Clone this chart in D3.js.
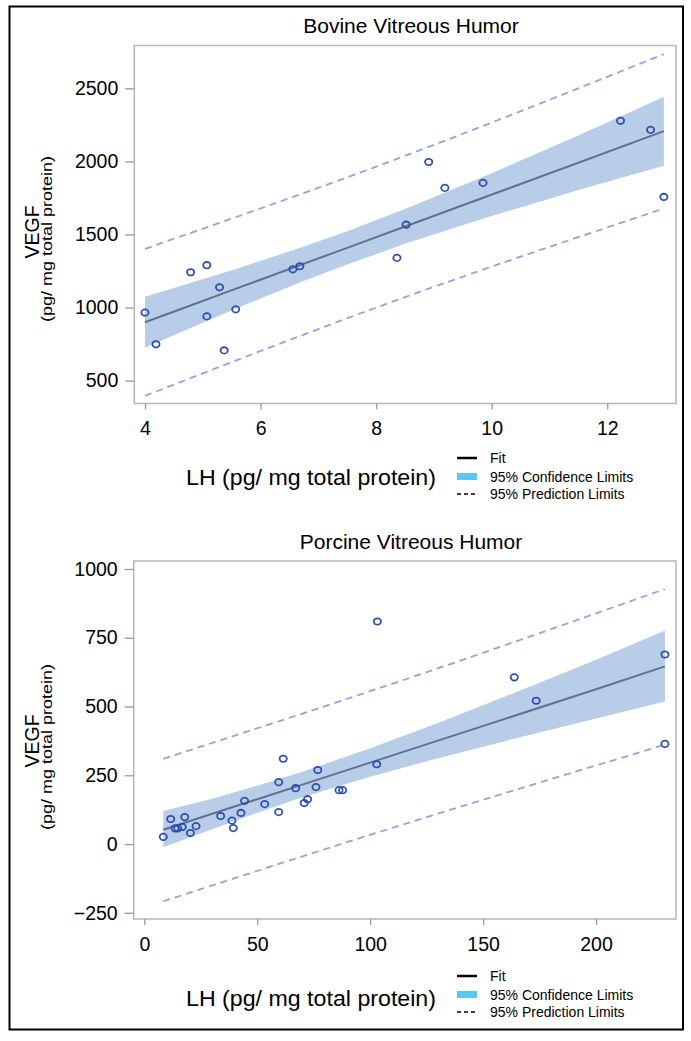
<!DOCTYPE html>
<html><head><meta charset="utf-8">
<script src="https://cdn.jsdelivr.net/npm/d3@7"></script>
<style>
body{margin:0;background:#fff}
text{font-family:"Liberation Sans",Arial,sans-serif;fill:#000}
</style>
</head><body>
<svg id="c" width="691" height="1041"></svg>
<script>
// ---------------- Bovine Vitreous Humor ----------------
const bovineLH   = [4.00, 4.19, 4.79, 5.07, 5.07, 5.29, 5.37, 5.57, 6.56, 6.68, 8.36, 8.52, 8.91, 9.19, 9.85, 12.23, 12.75, 12.98];
const bovineVEGF = [966, 749, 1242, 1290, 940, 1139, 707, 988, 1262, 1283, 1340, 1567, 1996, 1819, 1853, 2278, 2216, 1757];
const bovineBandX   = [4.0, 4.8, 5.6, 6.7, 7.5, 8.5, 9.9, 11.5, 12.98];
const bovineFit     = [900, 1016, 1133, 1293, 1409, 1555, 1758, 1991, 2207];
const bovineCLUpper = [1075, 1170, 1268, 1411, 1523, 1674, 1902, 2178, 2443];
const bovineCLLower = [725, 862, 998, 1175, 1295, 1436, 1614, 1804, 1971];
const bovinePredX     = [4.0, 8.0, 12.98];
const bovinePredUpper = [1402, 1964, 2734];
const bovinePredLower = [396, 1000, 1678];
const bovineXTicks = [4, 6, 8, 10, 12];
const bovineYTicks = [500, 1000, 1500, 2000, 2500];

// ---------------- Porcine Vitreous Humor ----------------
const porcineLH   = [8.4, 11.7, 13.6, 14.8, 16.8, 17.9, 20.4, 22.9, 33.8, 38.8, 39.4, 42.8, 44.4, 53.3, 59.5, 59.5, 61.5, 67.0, 70.8, 72.3, 76.0, 76.8, 86.2, 87.8, 102.9, 103.2, 163.8, 173.5, 230.5, 230.5];
const porcineVEGF = [26, 91, 57, 57, 62, 98, 40, 65, 102, 85, 58, 113, 157, 145, 116, 225, 310, 203, 149, 163, 207, 269, 196, 196, 290, 809, 606, 521, 689, 364];
const porcineBandX   = [8.4, 30, 50, 70, 100, 130, 160, 200, 230.5];
const porcineFit     = [52, 110, 163, 216, 296, 376, 456, 563, 646];
const porcineCLUpper = [120, 165, 212, 263, 348, 440, 537, 670, 776];
const porcineCLLower = [-12, 54, 114, 170, 245, 312, 375, 456, 518];
const porcinePredX     = [8.4, 120, 230.5];
const porcinePredUpper = [310, 611, 927];
const porcinePredLower = [-208, 85, 361];
const porcineXTicks = [0, 50, 100, 150, 200];
const porcineYTicks = [-250, 0, 250, 500, 750, 1000];

const legendLabels = ["Fit", "95% Confidence Limits", "95% Prediction Limits"];
const xTitle = "LH (pg/ mg total protein)";
const yTitle = "VEGF";
const ySubTitle = "(pg/ mg total protein)";

const C = {
  point: "#2d4fae",
  band: "#b8cde8",
  fit: "#627190",
  pred: "#98a0e0",
  frame: "#b5b5b5",
  tick: "#9a9a9a",
  legendCL: "#58c8f2"
};

const svg = d3.select("#c");

// outer border
svg.append("rect").attr("x", 9.5).attr("y", 6.5).attr("width", 673.5).attr("height", 1023)
  .attr("fill", "none").attr("stroke", "#000").attr("stroke-width", 2);

function panel(o) {
  const g = svg.append("g");
  const x = d3.scaleLinear().domain(o.xDomain).range([o.left, o.right]);
  const y = d3.scaleLinear().domain(o.yDomain).range([o.bottom, o.top]);

  // title
  g.append("text").attr("x", o.titleX).attr("y", o.titleY).attr("text-anchor", "middle")
    .attr("font-size", 21).text(o.title);

  // CL band
  const band = o.bandX.map((v, i) => ({x: v, lo: o.clLower[i], hi: o.clUpper[i], f: o.fit[i]}));
  g.append("path").datum(band)
    .attr("d", d3.area().x(d => x(d.x)).y0(d => y(d.lo)).y1(d => y(d.hi)))
    .attr("fill", C.band).attr("stroke", "none");

  // prediction limits
  const pred = o.predX.map((v, i) => ({x: v, lo: o.predLower[i], hi: o.predUpper[i]}));
  ["hi", "lo"].forEach(k => {
    g.append("path").datum(pred)
      .attr("d", d3.line().curve(d3.curveMonotoneX).x(d => x(d.x)).y(d => y(d[k])))
      .attr("fill", "none").attr("stroke", C.pred).attr("stroke-width", 1.8)
      .attr("stroke-dasharray", "7,5");
  });

  // fit line
  g.append("path").datum(band)
    .attr("d", d3.line().x(d => x(d.x)).y(d => y(d.f)))
    .attr("fill", "none").attr("stroke", C.fit).attr("stroke-width", 2);

  // points
  g.selectAll("ellipse.pt").data(o.px.map((v, i) => [v, o.py[i]])).join("ellipse")
    .attr("class", "pt")
    .attr("cx", d => x(d[0])).attr("cy", d => y(d[1])).attr("rx", 3.6).attr("ry", 3.2)
    .attr("fill", "none").attr("stroke", C.point).attr("stroke-width", 1.8);

  // frame
  g.append("rect").attr("x", o.left).attr("y", o.top)
    .attr("width", o.right - o.left).attr("height", o.bottom - o.top)
    .attr("fill", "none").attr("stroke", C.frame).attr("stroke-width", 1.5);

  // axes
  const ya = g.append("g").attr("transform", `translate(${o.left},0)`)
    .call(d3.axisLeft(y).tickValues(o.yTicks).tickSize(9).tickPadding(7).tickFormat(d3.format("d")));
  ya.select(".domain").remove();
  ya.selectAll(".tick line").attr("stroke", C.tick).attr("stroke-width", 1.3);
  ya.selectAll(".tick text").attr("font-size", 19.5).attr("font-family", '"Liberation Sans",Arial,sans-serif').attr("fill", "#000");

  const xa = g.append("g").attr("transform", `translate(0,${o.bottom})`)
    .call(d3.axisBottom(x).tickValues(o.xTicks).tickSize(6).tickPadding(12).tickFormat(d3.format("d")));
  xa.select(".domain").remove();
  xa.selectAll(".tick line").attr("stroke", C.tick).attr("stroke-width", 1.3);
  xa.selectAll(".tick text").attr("font-size", 19.5).attr("font-family", '"Liberation Sans",Arial,sans-serif').attr("fill", "#000");

  // y titles
  g.append("text").attr("transform", `translate(${o.yTitleX},${o.yTitleY}) rotate(-90)`)
    .attr("text-anchor", "middle").attr("dy", "0.36em").attr("font-size", 19.5).text(yTitle);
  g.append("text").attr("transform", `translate(${o.ySubX},${o.ySubY}) rotate(-90)`)
    .attr("text-anchor", "middle").attr("dy", "0.36em").attr("font-size", 14)
    .attr("textLength", 166).attr("lengthAdjust", "spacingAndGlyphs").text(ySubTitle);

  // x title
  g.append("text").attr("x", o.xTitleX).attr("y", o.xTitleY).attr("text-anchor", "middle")
    .attr("dy", "0.36em").attr("font-size", 22.5)
    .attr("textLength", 250).attr("lengthAdjust", "spacingAndGlyphs").text(xTitle);

  // legend
  const lg = g.append("g").attr("transform", `translate(457,${o.legY})`);
  lg.append("line").attr("x1", 0).attr("x2", 20).attr("y1", 0).attr("y2", 0)
    .attr("stroke", "#000").attr("stroke-width", 2.5);
  lg.append("rect").attr("x", 0).attr("y", 15).attr("width", 20).attr("height", 7)
    .attr("fill", C.legendCL);
  lg.append("line").attr("x1", 0).attr("x2", 20).attr("y1", 36).attr("y2", 36)
    .attr("stroke", "#000").attr("stroke-width", 1.5).attr("stroke-dasharray", "4,3");
  legendLabels.forEach((t, i) => {
    lg.append("text").attr("x", 33).attr("y", [0, 18.5, 36][i]).attr("dy", "0.36em")
      .attr("font-size", 14).text(t);
  });
}

panel({
  title: "Bovine Vitreous Humor", titleX: 411, titleY: 33,
  left: 134.3, right: 676, top: 45.5, bottom: 403.5,
  xDomain: [3.815, 13.19], yDomain: [344, 2793],
  px: bovineLH, py: bovineVEGF,
  bandX: bovineBandX, fit: bovineFit, clUpper: bovineCLUpper, clLower: bovineCLLower,
  predX: bovinePredX, predUpper: bovinePredUpper, predLower: bovinePredLower,
  xTicks: bovineXTicks, yTicks: bovineYTicks,
  yTitleX: 31.5, yTitleY: 232, ySubX: 47, ySubY: 239,
  xTitleX: 311, xTitleY: 477, legY: 458
});

panel({
  title: "Porcine Vitreous Humor", titleX: 411, titleY: 549,
  left: 133.7, right: 676, top: 561, bottom: 919,
  xDomain: [-4.7, 235.4], yDomain: [-272.5, 1029],
  px: porcineLH, py: porcineVEGF,
  bandX: porcineBandX, fit: porcineFit, clUpper: porcineCLUpper, clLower: porcineCLLower,
  predX: porcinePredX, predUpper: porcinePredUpper, predLower: porcinePredLower,
  xTicks: porcineXTicks, yTicks: porcineYTicks,
  yTitleX: 31.5, yTitleY: 741, ySubX: 47, ySubY: 747,
  xTitleX: 311, xTitleY: 998, legY: 976
});
</script>
</body></html>
